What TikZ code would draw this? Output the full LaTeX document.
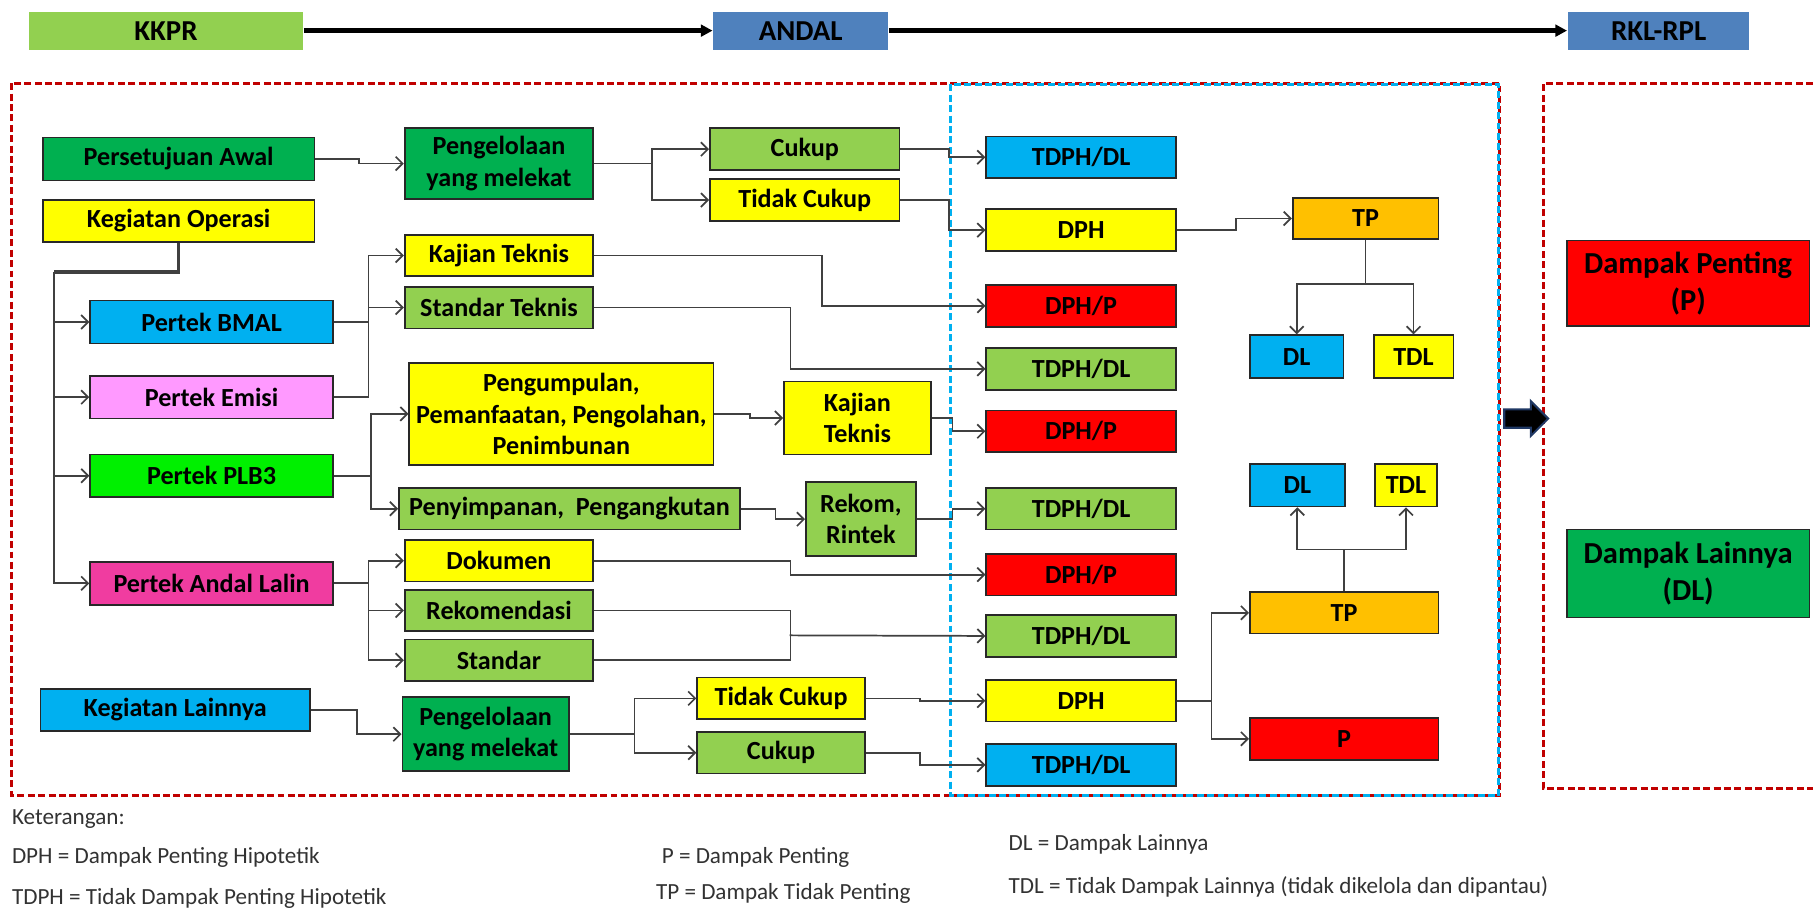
\documentclass[tikz,border=0pt]{standalone}
\usepackage{fontspec}
\setmainfont{Carlito}
\usetikzlibrary{arrows.meta,shapes.arrows}

\definecolor{lgreen}{RGB}{146,208,80}
\definecolor{dgreen}{RGB}{0,176,80}
\definecolor{ylw}{RGB}{255,255,0}
\definecolor{cyn}{RGB}{0,176,240}
\definecolor{pinkish}{RGB}{255,153,255}
\definecolor{bgreen}{RGB}{0,240,0}
\definecolor{magent}{RGB}{240,60,160}
\definecolor{steel}{RGB}{79,129,189}
\definecolor{orng}{RGB}{255,192,0}
\definecolor{rd}{RGB}{255,0,0}
\definecolor{frame}{RGB}{192,0,0}
\definecolor{boxline}{RGB}{40,40,40}
\definecolor{lnk}{RGB}{64,64,64}
\definecolor{legtext}{RGB}{50,50,50}
\definecolor{arrowblue}{RGB}{31,56,100}

\begin{document}
\begin{tikzpicture}[x=0.5pt, y=-0.5pt,
  box/.style={draw=boxline, line width=0.75pt, align=center, inner sep=1pt, font=\bfseries\fontsize{11.3}{13.5}\selectfont},
  sz/.style 2 args={minimum width=#1*0.5pt, minimum height=#2*0.5pt},
  stage/.style={box, draw=none, font=\bfseries\fontsize{12.5}{14}\selectfont},
  result/.style={box, font=\bfseries\fontsize{13.2}{16}\selectfont},
  conn/.style={-{Straight Barb[length=3pt,width=6pt]}, line width=0.75pt, draw=lnk},
  wire/.style={line width=0.75pt, draw=lnk},
  flow/.style={-{Triangle[length=5pt,width=5pt]}, line width=2pt},
  legend/.style={anchor=west, inner sep=0pt, text=legtext, font=\fontsize{10}{12}\selectfont}]
  \useasboundingbox (0,0) rectangle (1568,790);

  % frames
  \draw[frame, line width=1.3pt, dash pattern=on 3pt off 1.5pt] (10,72) rectangle (1297,688);
  \draw[cyn, line width=1.1pt, dash pattern=on 3pt off 1.5pt] (822,73) rectangle (1296,688);
  \draw[frame, line width=1.3pt, dash pattern=on 3pt off 1.5pt] (1568,72) -- (1335,72) -- (1335,682) -- (1568,682);
  \node[single arrow, fill=black, draw=arrowblue, line width=0.9pt, inner sep=3.5pt, minimum width=15pt, minimum height=19pt, single arrow head extend=3.5pt] (jump) at (1316,362) {};

  % stages
  \node[stage, fill=lgreen, sz={237}{33}] (kkpr) at (143.5,26.5) {KKPR};
  \node[stage, fill=steel, sz={151}{33}] (andal) at (692.5,26.5) {ANDAL};
  \node[stage, fill=steel, sz={157}{33}] (rkl) at (1434.5,26.5) {RKL-RPL};
  \draw[flow] (kkpr) -- (andal);
  \draw[flow] (andal) -- (rkl);

  % left column
  \node[box, fill=dgreen, sz={235}{37}] (pa) at (154.5,137.5) {Persetujuan Awal};
  \node[box, fill=ylw, sz={235}{36}] (ko) at (154.5,191) {Kegiatan Operasi};
  \node[box, fill=cyn, sz={210}{37}] (bmal) at (183,278.5) {Pertek BMAL};
  \node[box, fill=pinkish, sz={210}{37}] (emisi) at (183,343.5) {Pertek Emisi};
  \node[box, fill=bgreen, sz={210}{37}] (plb) at (183,411.5) {Pertek PLB3};
  \node[box, fill=magent, sz={210}{37}] (lalin) at (183,504.5) {Pertek Andal Lalin};
  \node[box, fill=cyn, sz={233}{36}] (kl) at (151.5,614) {Kegiatan Lainnya};

  % second column
  \node[box, fill=dgreen, sz={163}{61}] (pm1) at (431.5,141.5) {Pengelolaan\\yang melekat};
  \node[box, fill=ylw, sz={163}{36}] (kt1) at (431.5,221) {Kajian Teknis};
  \node[box, fill=lgreen, sz={163}{36}] (st1) at (431.5,266) {Standar Teknis};
  \node[box, fill=ylw, sz={263}{88}] (pgp) at (485.5,358) {Pengumpulan,\\Pemanfaatan, Pengolahan,\\Penimbunan};
  \node[box, fill=lgreen, sz={295}{36}] (pp) at (492.5,440) {Penyimpanan,\ \ Pengangkutan};
  \node[box, fill=ylw, sz={163}{36}] (dok) at (431.5,485) {Dokumen};
  \node[box, fill=lgreen, sz={163}{36}] (rek) at (431.5,528) {Rekomendasi};
  \node[box, fill=lgreen, sz={163}{36}] (std) at (431.5,571) {Standar};
  \node[box, fill=dgreen, sz={144}{64}] (pm2) at (420,635) {Pengelolaan\\yang melekat};

  % third column
  \node[box, fill=lgreen, sz={164}{36}] (ck1) at (696,129) {Cukup};
  \node[box, fill=ylw, sz={164}{36}] (tc1) at (696,173) {Tidak Cukup};
  \node[box, fill=ylw, sz={127}{63}] (kt2) at (741.5,361.5) {Kajian\\Teknis};
  \node[box, fill=lgreen, sz={95}{64}] (rr) at (744.5,449) {Rekom,\\Rintek};
  \node[box, fill=ylw, sz={145}{36}] (tc2) at (675.5,604) {Tidak Cukup};
  \node[box, fill=lgreen, sz={145}{36}] (ck2) at (675.5,651) {Cukup};

  % hypothetical impacts
  \node[box, fill=cyn, sz={164}{36}] (r1) at (935,136) {TDPH/DL};
  \node[box, fill=ylw, sz={164}{36}] (r2) at (935,199) {DPH};
  \node[box, fill=rd, sz={164}{36}] (r3) at (935,264.5) {DPH/P};
  \node[box, fill=lgreen, sz={164}{36}] (r4) at (935,319) {TDPH/DL};
  \node[box, fill=rd, sz={164}{36}] (r5) at (935,373) {DPH/P};
  \node[box, fill=lgreen, sz={164}{36}] (r6) at (935,440) {TDPH/DL};
  \node[box, fill=rd, sz={164}{36}] (r7) at (935,497) {DPH/P};
  \node[box, fill=lgreen, sz={164}{36}] (r8) at (935,550) {TDPH/DL};
  \node[box, fill=ylw, sz={164}{36}] (r9) at (935,606) {DPH};
  \node[box, fill=cyn, sz={164}{36}] (r10) at (935,661.5) {TDPH/DL};

  % evaluation
  \node[box, fill=orng, sz={126}{36}] (tp1) at (1181,189) {TP};
  \node[box, fill=cyn, sz={81}{37}] (dl1) at (1121.5,308.5) {DL};
  \node[box, fill=ylw, sz={69}{37}] (tdl1) at (1222.5,308.5) {TDL};
  \node[box, fill=cyn, sz={82}{37}] (dl2) at (1122,419.5) {DL};
  \node[box, fill=ylw, sz={54}{37}] (tdl2) at (1216,419.5) {TDL};
  \node[box, fill=orng, sz={163}{36}] (tp2) at (1162.5,530) {TP};
  \node[box, fill=rd, sz={163}{36}] (p2) at (1162.5,639) {P};

  % outcomes
  \node[result, fill=rd, sz={210}{74}] (dp) at (1460,245) {Dampak Penting\\(P)};
  \node[result, fill=dgreen, sz={210}{76}] (dlr) at (1460,496) {Dampak Lainnya\\(DL)};

  % connectors
  \coordinate (trunk) at (47,235);
  \coordinate (rsj) at (683,549.5);
  \draw[wire, line width=1.6pt] (ko.south) |- (trunk);
  \foreach \n in {bmal,emisi,plb,lalin}
    \draw[conn] (trunk) |- (\n.west);
  \draw[conn] (pa.east) -- ++(38,0) |- (pm1.west);
  \draw[conn] (pm1.east) -- ++(50,0) |- (ck1.west);
  \draw[conn] (pm1.east) -- ++(50,0) |- (tc1.west);
  \draw[conn] (ck1.east) -- ++(42,0) |- (r1.west);
  \draw[conn] (tc1.east) -- ++(42,0) |- (r2.west);
  \draw[conn] (r2.east) -- ++(51,0) |- (tp1.west);
  \draw[conn] (tp1.south) -- ++(0,38) -| (dl1.north);
  \draw[conn] (tp1.south) -- ++(0,38) -| (tdl1.north);
  \draw[conn] (bmal.east) -- ++(30,0) |- (kt1.west);
  \draw[conn] (bmal.east) -- ++(30,0) |- (st1.west);
  \draw[wire] (emisi.east) -- ++(30,0) |- (bmal.east);
  \draw[conn] (plb.east) -- ++(32,0) |- (pgp.west);
  \draw[conn] (plb.east) -- ++(32,0) |- (pp.west);
  \foreach \n in {dok,rek,std}
    \draw[conn] (lalin.east) -- ++(30,0) |- (\n.west);
  \draw[conn] (kl.east) -- ++(40,0) |- (pm2.west);
  \draw[conn] (pm2.east) -- ++(56,0) |- (tc2.west);
  \draw[conn] (pm2.east) -- ++(56,0) |- (ck2.west);
  \draw[conn] (tc2.east) -- ++(47,0) |- (r9.west);
  \draw[conn] (ck2.east) -- ++(47,0) |- (r10.west);
  \draw[conn] (r9.east) -- ++(30,0) |- (tp2.west);
  \draw[conn] (r9.east) -- ++(30,0) |- (p2.west);
  \draw[conn] (tp2.north) -- ++(0,-36) -| (dl2.south);
  \draw[conn] (tp2.north) -- ++(0,-36) -| (tdl2.south);
  \draw[conn] (kt1.east) -- ++(197,0) |- (r3.west);
  \draw[conn] (st1.east) -- ++(170,0) |- (r4.west);
  \draw[conn] (pgp.east) -- ++(31,0) |- (kt2.west);
  \draw[conn] (kt2.east) -- ++(18,0) |- (r5.west);
  \draw[conn] (pp.east) -- ++(30,0) |- (rr.west);
  \draw[conn] (rr.east) -- ++(31,0) |- (r6.west);
  \draw[conn] (dok.east) -- ++(170,0) |- (r7.west);
  \draw[wire] (rek.east) -- ++(170,0) |- (std.east);
  \draw[conn] (rsj) -- (r8.west);

  % legend
  \node[legend] (ket) at (10,708) {Keterangan:};
  \node[legend] (ldph) at (10,742) {DPH = Dampak Penting Hipotetik};
  \node[legend] (ltdph) at (10,777) {TDPH = Tidak Dampak Penting Hipotetik};
  \node[legend] (lp) at (572,742) {P = Dampak Penting};
  \node[legend] (ltp) at (567,773) {TP = Dampak Tidak Penting};
  \node[legend] (ldl) at (872,730) {DL = Dampak Lainnya};
  \node[legend] (ltdl) at (872,767) {TDL = Tidak Dampak Lainnya (tidak dikelola dan dipantau)};
\end{tikzpicture}
\end{document}
